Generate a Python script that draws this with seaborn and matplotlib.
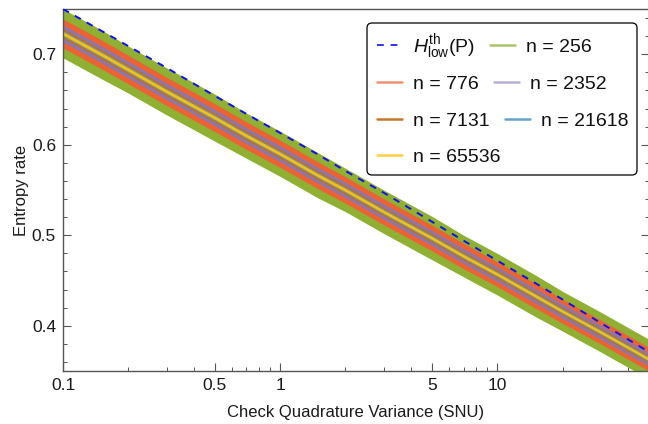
import numpy as np
import matplotlib
matplotlib.use("Agg")
import matplotlib.pyplot as plt
import seaborn as sns
import pandas as pd
from matplotlib.lines import Line2D
from matplotlib.patches import FancyBboxPatch
from matplotlib.transforms import IdentityTransform
from matplotlib.colors import to_rgb

# ---- data ----
x_vals = [0.1, 0.15, 0.2, 0.3, 0.5, 0.7, 1, 1.5, 2, 3, 5, 7, 10, 15, 20, 30, 50]
center = [0.723, 0.700, 0.683, 0.659, 0.630, 0.610, 0.590, 0.566, 0.550,
          0.526, 0.497, 0.477, 0.457, 0.433, 0.416, 0.393, 0.363]
h_th = [0.750, 0.726, 0.709, 0.685, 0.654, 0.634, 0.613, 0.589, 0.571,
        0.547, 0.515, 0.494, 0.472, 0.447, 0.429, 0.403, 0.371]

n_labels = ["n = 256", "n = 776", "n = 2352", "n = 7131", "n = 21618", "n = 65536"]
hw_256 = [0.027, 0.027, 0.026, 0.026, 0.026, 0.025, 0.025, 0.025, 0.024,
          0.024, 0.024, 0.023, 0.023, 0.023, 0.022, 0.022, 0.022]
hw_776 = [0.016, 0.016, 0.0158, 0.0156, 0.0154, 0.0152, 0.015, 0.0148, 0.0146,
          0.0144, 0.0142, 0.014, 0.0138, 0.0136, 0.0134, 0.0132, 0.013]
hw_2352 = [0.0092, 0.0091, 0.009, 0.0089, 0.0088, 0.0087, 0.0086, 0.0085, 0.0084,
           0.0083, 0.0082, 0.0081, 0.008, 0.0079, 0.0078, 0.0077, 0.0075]
hw_7131 = [0.0053, 0.0053, 0.0052, 0.0052, 0.0051, 0.0051, 0.005, 0.005, 0.0049,
           0.0048, 0.0048, 0.0047, 0.0047, 0.0046, 0.0045, 0.0045, 0.0044]
hw_21618 = [0.0031, 0.0031, 0.003, 0.003, 0.003, 0.0029, 0.0029, 0.0029, 0.0028,
            0.0028, 0.0028, 0.0027, 0.0027, 0.0027, 0.0026, 0.0026, 0.0026]
hw_65536 = [0.0018, 0.0018, 0.0018, 0.0018, 0.0017, 0.0017, 0.0017, 0.0017, 0.0017,
            0.0016, 0.0016, 0.0016, 0.0016, 0.0016, 0.0015, 0.0015, 0.0015]
half_widths = [hw_256, hw_776, hw_2352, hw_7131, hw_21618, hw_65536]

band_colors = ["#8FB032", "#EB6235", "#8778B3", "#C56E1A", "#5D9EC7", "#FFBF00"]
legend_alpha = [0.75, 0.7, 0.6, 0.95, 0.95, 0.75]

x_major = [0.1, 0.5, 1, 5, 10]
x_major_labels = ["0.1", "0.5", "1", "5", "10"]
y_major = [0.4, 0.5, 0.6, 0.7]

# ---- style ----
sns.set_theme(style="ticks")
plt.rcParams["font.family"] = ["Liberation Sans", "DejaVu Sans"]
plt.rcParams["mathtext.fontset"] = "custom"
plt.rcParams["mathtext.rm"] = "Liberation Sans"
plt.rcParams["mathtext.it"] = "Liberation Sans:italic"

W, H = 648, 424
fig = plt.figure(figsize=(W / 100, H / 100), dpi=100)
ax = fig.add_axes([63 / W, 53 / H, 586 / W, 362 / H])

xs = np.array(x_vals)
c = np.array(center)
for hw, col in zip(half_widths, band_colors):
    hw = np.array(hw)
    ax.fill_between(xs, c - hw, c + hw, color=col, lw=0, zorder=2)

df_th = pd.DataFrame({"x": x_vals, "y": h_th})
sns.lineplot(data=df_th, x="x", y="y", ax=ax, color="#1010F0", lw=1.4, zorder=5)
ax.lines[-1].set_dashes((3.5, 3.5))

ax.set_xscale("log")
ax.set_xlim(0.1, 50)
ax.set_ylim(0.35, 0.75)
ax.set_xticks(x_major)
ax.set_xticklabels(x_major_labels)
minor = [v * d for d in (0.1, 1, 10) for v in range(2, 10)] + [50]
minor = [m for m in minor if m not in x_major and 0.1 <= m <= 50]
ax.set_xticks(minor, minor=True)
ax.set_xticklabels([], minor=True)
ax.set_yticks(y_major)
ax.set_yticklabels(["0.4", "0.5", "0.6", "0.7"])
ax.set_yticks(np.arange(0.36, 0.75, 0.02), minor=True)

spine_col = "#555555"
for s in ax.spines.values():
    s.set_color(spine_col)
    s.set_linewidth(1.0)
    s.set_visible(True)
ax.tick_params(which="both", direction="in", color=spine_col, right=True, top=False,
               labelsize=12.5, labelcolor="#1a1a1a")
ax.tick_params(which="major", length=6, width=0.8, pad=5)
ax.tick_params(which="minor", length=3, width=0.7)

ax.set_xlabel("Check Quadrature Variance (SNU)", fontsize=12, color="#1a1a1a", labelpad=9)
ax.set_ylabel("Entropy rate", fontsize=12, color="#1a1a1a", labelpad=2)


def light(col, a):
    r, g, b = to_rgb(col)
    return (r * a + 1 - a, g * a + 1 - a, b * a + 1 - a)


# ---- legend laid out row by row (Mathematica style) ----
labels_all = [r"$H_{\mathrm{low}}^{\mathrm{th}}$(P)"] + n_labels
styles_all = [dict(color="#3030F0", lw=1.4, dashes=(3.5, 3.5))] + [
    dict(color=light(col, a), lw=1.8) for col, a in zip(band_colors, legend_alpha)]
rows = [[0, 1], [2, 3], [4, 5], [6]]
baselines = [52, 89, 126, 162]

ident = IdentityTransform()
box = FancyBboxPatch((367, H - 175), 270, 152,
                     boxstyle="round,pad=0,rounding_size=5",
                     transform=ident, fc="white", ec="black", lw=0.9, zorder=20)
fig.add_artist(box)
renderer = fig.canvas.get_renderer()
for row, bl in zip(rows, baselines):
    x = 377
    for idx in row:
        ln = Line2D([x, x + 25], [H - (bl - 7)] * 2, transform=ident, zorder=21,
                    **styles_all[idx])
        fig.add_artist(ln)
        t = fig.text(x + 36, H - bl, labels_all[idx], transform=ident,
                     fontsize=14, va="baseline", ha="left", color="#111111", zorder=22)
        w = t.get_window_extent(renderer).width
        x = x + 36 + w + 15

fig.savefig("out.png", dpi=100)
